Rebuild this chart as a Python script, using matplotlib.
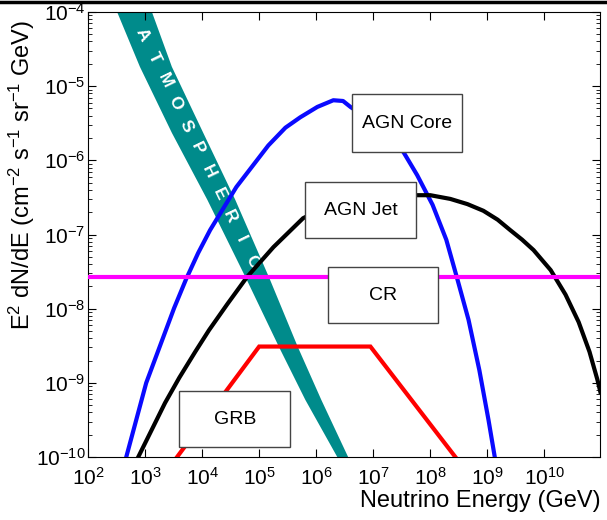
import matplotlib
matplotlib.use("Agg")
import matplotlib.pyplot as plt
import numpy as np
from matplotlib.patches import Rectangle
from matplotlib.lines import Line2D

plt.rcParams['font.family'] = ['Liberation Sans', 'DejaVu Sans']
plt.rcParams['mathtext.fontset'] = 'custom'
plt.rcParams['mathtext.rm'] = 'Liberation Sans'
plt.rcParams['mathtext.it'] = 'Liberation Sans:italic'
plt.rcParams['mathtext.default'] = 'regular'

# values, as log10(E / GeV) and log10(E^2 dN/dE)
core_logE = [2.67, 3.02, 3.51, 3.72, 3.93, 4.14, 4.60, 5.16, 5.46, 5.72, 6.02, 6.30, 6.47, 6.60,
             7.07, 7.53, 7.77, 8.04, 8.28, 8.47, 8.67, 8.86, 9.02, 9.13]
core_logF = [-10.0, -9.0, -7.99, -7.60, -7.25, -6.94, -6.36, -5.80, -5.56, -5.42, -5.28, -5.19, -5.20, -5.28,
             -5.52, -5.89, -6.20, -6.60, -7.07, -7.59, -8.15, -8.83, -9.50, -10.0]

jet_logE = [2.88, 3.35, 3.60, 3.88, 4.12, 4.44, 4.79, 5.25, 5.77, 6.25, 6.77, 7.30, 7.74,
            8.00, 8.35, 8.65, 8.93, 9.18, 9.40, 9.61, 9.81, 10.11, 10.37, 10.60, 10.79, 10.93, 10.98]
jet_logF = [-10.0, -9.27, -8.93, -8.58, -8.29, -7.94, -7.57, -7.17, -6.78, -6.60, -6.51, -6.47, -6.47,
            -6.47, -6.52, -6.59, -6.68, -6.80, -6.94, -7.07, -7.21, -7.48, -7.81, -8.18, -8.58, -8.96, -9.12]

grb_logE = [3.56, 5.00, 6.95, 8.44]
grb_logF = [-10.0, -8.51, -8.51, -10.0]

cr_logE = [2.0, 10.98]
cr_logF = [-7.57, -7.57]

atm_logF = [-4.0, -4.74, -5.63, -6.53, -7.59, -8.52, -9.23, -10.0]
atm_low_logE = [2.51, 2.91, 3.47, 4.09, 4.77, 5.35, 5.81, 6.37]
atm_high_logE = [3.12, 3.47, 4.02, 4.58, 5.18, 5.68, 6.09, 6.56]

x_ticks = [2, 3, 4, 5, 6, 7, 8, 9, 10]
y_ticks = [-10, -9, -8, -7, -6, -5, -4]

labels = ['AGN Core', 'AGN Jet', 'CR', 'GRB']

fig = plt.figure(figsize=(6.07, 5.20), dpi=100)
ax = fig.add_axes([0.145, 0.121, 0.844, 0.856])
ax.set_xscale('log')
ax.set_yscale('log')

p = lambda v: np.power(10.0, v)

band_x = np.concatenate([p(atm_low_logE), p(atm_high_logE)[::-1]])
band_y = np.concatenate([p(atm_logF), p(atm_logF)[::-1]])
ax.fill(band_x, band_y, color='#008b8b', lw=0, zorder=1)

ax.plot(p(core_logE), p(core_logF), color='#0a0aff', lw=3, zorder=3)
ax.plot(p(jet_logE), p(jet_logF), color='black', lw=3, zorder=3)
ax.plot(p(grb_logE), p(grb_logF), color='#ff0000', lw=3, zorder=3, solid_joinstyle='miter')
ax.plot(p(cr_logE), p(cr_logF), color='#ff00ff', lw=3, zorder=3)

# letters along the atmospheric band
word = 'ATMOSPHERIC'
sx, sy = 0.107, 0.948
ex, ey = 0.320, 0.438
for i, ch in enumerate(word):
    t = i / (len(word) - 1)
    ax.text(sx + (ex - sx) * t, sy + (ey - sy) * t, ch, transform=ax.transAxes,
            rotation=-64, color='white', fontsize=12.5, fontweight='bold',
            ha='center', va='center', zorder=2)

# label boxes (axes fraction)
boxes = [(0.516, 0.685, 0.214, 0.131), (0.424, 0.492, 0.217, 0.126),
         (0.469, 0.301, 0.215, 0.126), (0.178, 0.0225, 0.217, 0.126)]
for (bx, by, bw, bh), lab in zip(boxes, labels):
    ax.add_patch(Rectangle((bx, by), bw, bh, transform=ax.transAxes, facecolor='white',
                           edgecolor='#444444', lw=1.0, zorder=5))
    ax.text(bx + bw / 2, by + bh / 2, lab, transform=ax.transAxes, fontsize=14,
            ha='center', va='center', zorder=6)

ax.set_xlim(1e2, p(10.98))
ax.set_ylim(1e-10, 1e-4)
ax.set_xticks(p(np.array(x_ticks, dtype=float)))
ax.set_yticks(p(np.array(y_ticks, dtype=float)))
ax.tick_params(which='both', direction='in', top=True, right=True)
ax.tick_params(which='major', length=6, width=0.8, labelsize=15)
ax.tick_params(which='minor', length=3, width=0.6)
ax.tick_params(axis='x', pad=7)
ax.tick_params(axis='y', pad=2)
for s in ax.spines.values():
    s.set_linewidth(0.8)

ax.set_xlabel('Neutrino Energy (GeV)', fontsize=17, ha='right')
ax.xaxis.set_label_coords(1.0, -0.075)
ax.set_ylabel('E$^2$ dN/dE (cm$^{-2}$ s$^{-1}$ sr$^{-1}$ GeV)', fontsize=17)
ax.yaxis.set_label_coords(-0.10, 0.634)

fig.add_artist(Line2D([0, 1], [0.996, 0.996], transform=fig.transFigure, color='black', lw=2.5))

fig.savefig('out.png', dpi=100)
